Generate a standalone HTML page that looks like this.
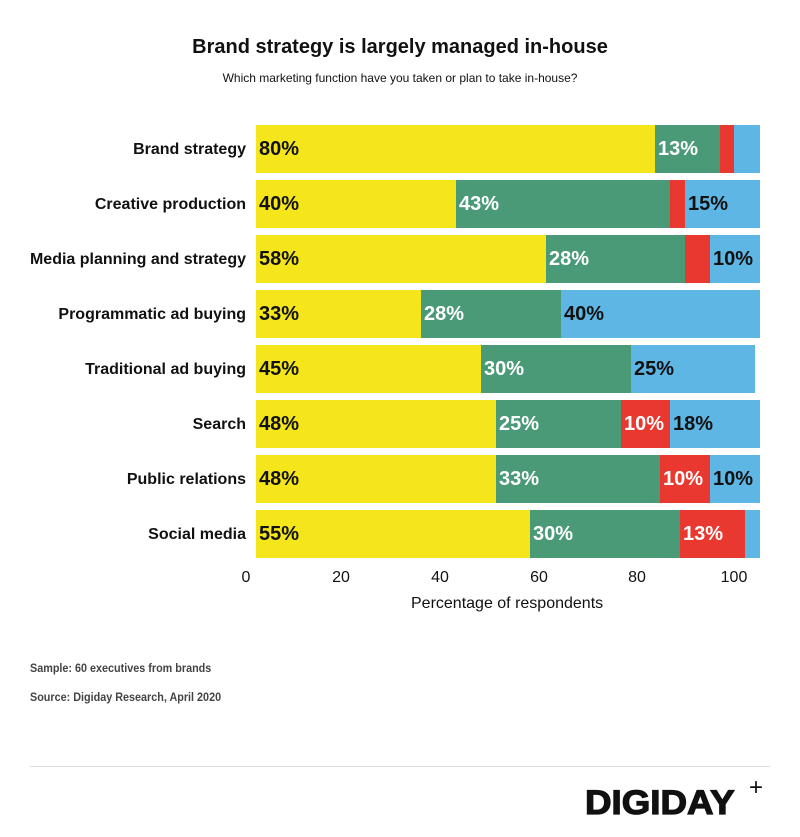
<!DOCTYPE html>
<html><head><meta charset="utf-8"><style>
body{margin:0;width:800px;height:837px;background:#fff;font-family:"Liberation Sans",sans-serif;position:relative;overflow:hidden}
.a{position:absolute;white-space:nowrap}
.lab{right:554px;font-size:16px;font-weight:bold;color:#111;text-align:right}
.bar{position:absolute;height:48px}
.v{position:absolute;font-size:20px;font-weight:bold;line-height:48px}
.t{font-size:16px;color:#111;transform:translateX(-50%)}
</style></head><body>
<div class="a" style="left:0;width:800px;text-align:center;top:36px;font-size:20px;font-weight:bold;color:#111">Brand strategy is largely managed in-house</div>
<div class="a" style="left:0;width:800px;text-align:center;top:71px;font-size:12px;color:#111">Which marketing function have you taken or plan to take in-house?</div>
<div id="c"></div>
<div class="a t" style="left:246px;top:569px">0</div>
<div class="a t" style="left:341px;top:569px">20</div>
<div class="a t" style="left:440px;top:569px">40</div>
<div class="a t" style="left:539px;top:569px">60</div>
<div class="a t" style="left:637px;top:569px">80</div>
<div class="a t" style="left:734px;top:569px">100</div>
<div class="a" style="left:411px;top:595px;font-size:16px;color:#111">Percentage of respondents</div>
<div class="a" style="left:30px;top:661px;font-size:12px;font-weight:bold;color:#444;transform:scaleX(.9);transform-origin:left">Sample: 60 executives from brands</div>
<div class="a" style="left:30px;top:690px;font-size:12px;font-weight:bold;color:#444;transform:scaleX(.9);transform-origin:left">Source: Digiday Research, April 2020</div>
<div class="a" style="left:30px;top:766px;width:740px;height:1px;background:#ddd"></div>
<div class="a" style="left:585px;top:784px;font-size:34px;font-weight:900;color:#111;line-height:38px;-webkit-text-stroke:1.2px #111;transform:scaleX(1.08);transform-origin:left">DIGIDAY</div>
<div class="a" style="left:749px;top:775px;font-size:24px;font-weight:300;color:#111;line-height:26px">+</div>
<script>
const rows=[
["Brand strategy",[[655,"#f5e61c","80%","#111"],[720,"#4a9a78","13%","#fff"],[734,"#e8382f",""],[760,"#5db6e3",""]]],
["Creative production",[[456,"#f5e61c","40%","#111"],[670,"#4a9a78","43%","#fff"],[685,"#e8382f",""],[760,"#5db6e3","15%","#111"]]],
["Media planning and strategy",[[546,"#f5e61c","58%","#111"],[685,"#4a9a78","28%","#fff"],[710,"#e8382f",""],[760,"#5db6e3","10%","#111"]]],
["Programmatic ad buying",[[421,"#f5e61c","33%","#111"],[561,"#4a9a78","28%","#fff"],[760,"#5db6e3","40%","#111"]]],
["Traditional ad buying",[[481,"#f5e61c","45%","#111"],[631,"#4a9a78","30%","#fff"],[755,"#5db6e3","25%","#111"]]],
["Search",[[496,"#f5e61c","48%","#111"],[621,"#4a9a78","25%","#fff"],[670,"#e8382f","10%","#fff"],[760,"#5db6e3","18%","#111"]]],
["Public relations",[[496,"#f5e61c","48%","#111"],[660,"#4a9a78","33%","#fff"],[710,"#e8382f","10%","#fff"],[760,"#5db6e3","10%","#111"]]],
["Social media",[[530,"#f5e61c","55%","#111"],[680,"#4a9a78","30%","#fff"],[745,"#e8382f","13%","#fff"],[760,"#5db6e3",""]]]];
let h="";rows.forEach((r,i)=>{const y=125+i*55;h+=`<div class="a lab" style="top:${y+16}px">${r[0]}</div>`;let x=256;r[1].forEach(s=>{h+=`<div class="bar" style="left:${x}px;top:${y}px;width:${s[0]-x}px;background:${s[1]}"></div>`;if(s[2])h+=`<div class="v" style="left:${x+3}px;top:${y}px;color:${s[3]}">${s[2]}</div>`;x=s[0];});});
document.getElementById("c").innerHTML=h;
</script>
</body></html>
